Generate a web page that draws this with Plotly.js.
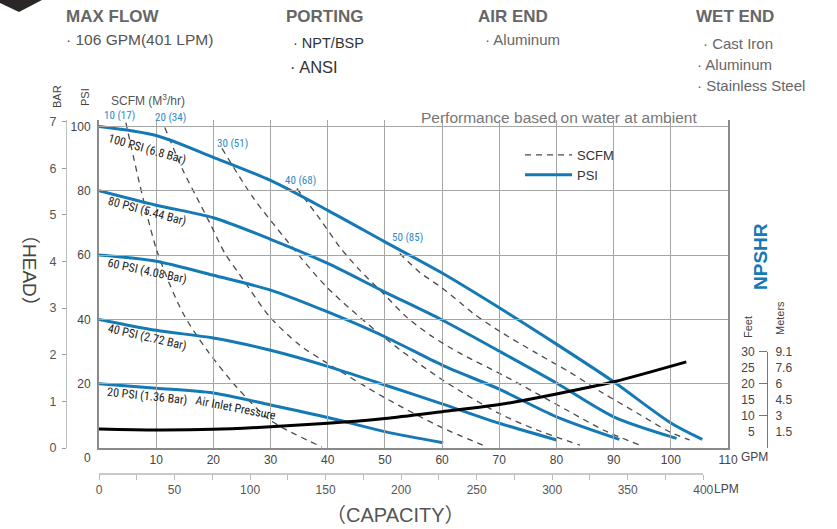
<!DOCTYPE html>
<html><head><meta charset="utf-8">
<script src="https://cdn.plot.ly/plotly-3.0.1.min.js"></script>
<style>html,body{margin:0;padding:0;background:#fff}#chart{width:837px;height:529px}</style>
</head><body><div id="chart"></div>
<script>
// ---------- axes / tick data ----------
const gpmTicks = [0,10,20,30,40,50,60,70,80,90,100,110];
const gpmLabels = ['','10','20','30','40','50','60','70','80','90','100','110'];
const psiTicks = [20,40,60,80,100];
const barTicks = [0,1,2,3,4,5,6,7];
const lpmTicks = [0,25,50,75,100,125,150,175,200,225,250,275,300,325,350,375,400];
const lpmLabels = ['0','','50','','100','','150','','200','','250','','300','','350','','400'];
const feetTicks = [5,10,15,20,25,30];
const feetMajor = [10,20,30];
const meterLabels = ['1.5','3','4.5','6','7.6','9.1'];

// ---------- PSI (air inlet pressure) curves: flow GPM vs head PSI ----------
const flow100 = [0,10,20,30,40,50,60,70,80,90,100,105.5];
const head100 = [100,97.2,90.4,83.2,73.9,64.1,54.4,43.6,32.3,20.6,7.8,2.7];
const flow80 = [0,10,20,30,40,50,60,70,80,90,101];
const head80 = [80,75.5,71.6,64.9,57.4,48.5,39.8,30.1,20.2,9.7,3.0];
const flow60 = [0,10,20,30,40,50,60,70,80,91];
const head60 = [60,58.1,53.7,49.1,42.3,34.6,25.8,18.3,9.7,2.7];
const flow40 = [0,10,20,30,40,50,60,70,80];
const head40 = [40,36.6,34.2,30.4,25.4,19.6,13.7,7.7,2.5];
const flow20 = [0,10,20,30,40,50,60.2];
const head20 = [20,18.6,17.1,13.4,9.5,5.1,1.6];

// ---------- SCFM (air consumption) curves ----------
const scfm10Flow = [4.7,10.1,14.7,18.9,24.1,29.9,39.0];
const scfm10Head = [101.2,61.5,41.9,30.4,18.9,8.7,0.3];
const scfm20Flow = [11.5,14.7,17.1,19.4,22.0,24.7,29.9,35.1,39.9,49.7,59.8,67.1];
const scfm20Head = [99.7,86.3,77.9,69.9,60.6,53.7,40.7,32.0,26.4,15.9,6.5,0.9];
const scfm30Flow = [21.5,26.9,32.8,39.8,49.7,59.7,69.8,76.6,84.1];
const scfm30Head = [93.2,78.0,64.6,50.1,34.6,21.6,10.9,5.6,0.9];
const scfm40Flow = [34.6,38.6,42.1,45.6,49.7,53.8,58.4,63.1,70.6,76.5,82.3,88.2,94.6];
const scfm40Head = [80.7,71.3,62.5,55.3,48.1,40.7,34.5,29.5,22.7,17.0,11.3,5.6,0.9];
const scfm50Flow = [52.6,56.1,59.8,63.1,65.4,70.6,76.5,82.3,88.1,94.1,99.8,103.3];
const scfm50Head = [60.5,54.6,50.0,45.3,41.9,35.7,29.5,23.6,17.1,10.9,5.0,2.5];

// ---------- NPSHR curve (feet) ----------
const npshrFlow = [0,10,20,30,40,50,60,70,80,90,102.7];
const npshrFeet = [5.9,5.6,5.8,6.6,7.7,9.2,11.3,13.5,16.8,20.6,26.8];

// ---------- labels ----------
const scfmLabels = ['10 (17)','20 (34)','30 (51)','40 (68)','50 (85)'];
const psiCurveLabels = ['100 PSI (6.8 Bar)','80 PSI (5.44 Bar)','60 PSI (4.08 Bar)','40 PSI (2.72 Bar)','20 PSI (1.36 Bar)'];

// ---------- helpers (pixel -> paper) ----------
const ML = 30, MR = 30, MT = 120, MB = 40, W = 837, H = 529;
const PW = W - ML - MR, PH = H - MT - MB;
const px = x => (x - ML) / PW;
const py = y => (H - MB - y) / PH;

const BLUE = '#1479b5';
const GRID = '#a6a6a6';
const FONT = 'Liberation Sans, Arial, sans-serif';
const CJK = 'Liberation Sans, Noto Sans CJK SC, sans-serif';
const NARROW = 'Liberation Sans Narrow, Roboto Condensed, Liberation Sans, sans-serif';
const PSI_MAX = 102;
const PSI_PER_BAR = 14.5038;
const GPM_MAX = 110;
const LPM_PER_GPM = 3.78541;

const xd0 = px(99), xd1 = px(728);
const yd0 = py(448);
const lpmEnd = xd0 + (400 / (GPM_MAX * LPM_PER_GPM)) * (xd1 - xd0);
const feetTop = yd0 + (30 / PSI_MAX) * (1 - yd0);

const dashStyle = '6px,5px';
function scfmTrace(x, y, legend) {
  return {x, y, type:'scatter', mode:'lines', name:'SCFM', showlegend:legend,
    line:{color:'#4a4a4a', width:1.3, dash:dashStyle, shape:'spline', smoothing:0.8},
    hoverinfo:'skip'};
}
function psiTrace(x, y, legend) {
  return {x, y, type:'scatter', mode:'lines', name:'PSI', showlegend:legend,
    line:{color:BLUE, width:3, shape:'spline', smoothing:0.8}, hoverinfo:'skip'};
}
// invisible anchors so that secondary axes get drawn
function axisAnchor(xa, ya) {
  return {x:[0], y:[0], xaxis:xa, yaxis:ya, type:'scatter', mode:'lines', showlegend:false,
    hoverinfo:'skip', line:{width:0}};
}

const traces = [
  scfmTrace(scfm10Flow, scfm10Head, true),
  scfmTrace(scfm20Flow, scfm20Head, false),
  scfmTrace(scfm30Flow, scfm30Head, false),
  scfmTrace(scfm40Flow, scfm40Head, false),
  scfmTrace(scfm50Flow, scfm50Head, false),
  psiTrace(flow100, head100, true),
  psiTrace(flow80, head80, false),
  psiTrace(flow60, head60, false),
  psiTrace(flow40, head40, false),
  psiTrace(flow20, head20, false),
  {x:npshrFlow, y:npshrFeet, yaxis:'y3', type:'scatter', mode:'lines', name:'NPSHR', showlegend:false,
   line:{color:'#000', width:3, shape:'spline', smoothing:0.8}, hoverinfo:'skip'},
  axisAnchor('x', 'y2'),
  axisAnchor('x', 'y4'),
  axisAnchor('x', 'y5'),
  axisAnchor('x2', 'y')
];

// ---------- annotations ----------
const ann = [];
function txt(text, x, y, opts) {
  ann.push(Object.assign({text, x:px(x), y:py(y), xref:'paper', yref:'paper', showarrow:false,
    xanchor:'center', yanchor:'middle', font:{family:FONT, size:12, color:'#444'}}, opts||{}));
}
const hdr = {size:17, color:'#666', family:FONT};
const item = {family:FONT, size:15, color:'#666'};
txt('<b>MAX FLOW</b>', 64, 17, {xanchor:'left', font:hdr});
txt('· 106 GPM(401 LPM)', 64, 40, {xanchor:'left', font:{family:FONT, size:15.5, color:'#555'}});
txt('<b>PORTING</b>', 284, 17, {xanchor:'left', font:hdr});
txt('· NPT/BSP', 291, 43, {xanchor:'left', font:{family:FONT, size:14.5, color:'#333'}});
txt('· ANSI', 288, 67, {xanchor:'left', font:{family:FONT, size:16.5, color:'#333'}});
txt('<b>AIR END</b>', 476, 17, {xanchor:'left', font:hdr});
txt('· Aluminum', 483, 40, {xanchor:'left', font:item});
txt('<b>WET END</b>', 694, 17, {xanchor:'left', font:hdr});
txt('· Cast Iron', 701, 43, {xanchor:'left', font:item});
txt('· Aluminum', 695, 64, {xanchor:'left', font:item});
txt('· Stainless Steel', 695, 86, {xanchor:'left', font:item});

txt('Performance based on water at ambient', 559, 117, {font:{family:FONT, size:15.5, color:'#777'}});
txt('SCFM (M<sup>3</sup>/hr)', 109, 100, {xanchor:'left', font:{family:FONT, size:12, color:'#555'}});
txt('BAR', 57, 97, {textangle:-90, font:{family:FONT, size:11, color:'#444'}});
txt('PSI', 85, 97, {textangle:-90, font:{family:FONT, size:11, color:'#444'}});
txt('（HEAD）', 30, 270, {textangle:90, font:{family:CJK, size:19, color:'#444'}});
txt('（CAPACITY）', 395, 515, {font:{family:CJK, size:20, color:'#555'}});
txt('<b>NPSHR</b>', 760, 257, {textangle:-90, font:{family:FONT, size:19, color:BLUE}});
txt('Feet', 748, 327, {textangle:-90, font:{family:FONT, size:11, color:'#444'}});
txt('Meters', 780, 318, {textangle:-90, font:{family:FONT, size:11, color:'#444'}});
txt('0', 87, 458, {font:{family:FONT, size:12, color:'#444'}});
txt('GPM', 739, 457, {xanchor:'left', font:{family:FONT, size:12, color:'#444'}});
txt('LPM', 712, 489, {xanchor:'left', font:{family:FONT, size:12, color:'#444'}});

const scfmLabelPos = [[119,116],[170,117],[232,143],[300,180],[407,237]];
scfmLabels.forEach((t,i) => txt(t, scfmLabelPos[i][0], scfmLabelPos[i][1],
  {font:{family:NARROW, size:11, color:'#2a8ac6'}}));
const psiLabelPos = [[147,149,16],[147,211,15],[147,271,12],[147,337,13],[147,396,6]];
psiCurveLabels.forEach((t,i) => txt(t, psiLabelPos[i][0], psiLabelPos[i][1],
  {textangle:psiLabelPos[i][2], font:{family:NARROW, size:12, color:'#222'}}));
txt('Air Inlet Pressure', 236, 408, {textangle:11, font:{family:NARROW, size:12, color:'#222'}});

const layout = {
  width:W, height:H, margin:{l:ML, r:MR, t:MT, b:MB},
  paper_bgcolor:'#fff', plot_bgcolor:'rgba(0,0,0,0)',
  font:{family:FONT, size:12, color:'#444'},
  showlegend:true,
  legend:{x:px(520), y:py(140), xanchor:'left', yanchor:'top', bgcolor:'rgba(0,0,0,0)',
    font:{family:FONT, size:13, color:'#333'}, tracegroupgap:0, itemwidth:47},
  xaxis:{domain:[xd0, xd1], range:[0, GPM_MAX], tickvals:gpmTicks, ticktext:gpmLabels,
    showgrid:true, gridcolor:GRID, gridwidth:1, zeroline:false, showline:true,
    linecolor:'#8a8a8a', linewidth:2, ticks:'', tickfont:{size:12, color:'#444'}},
  yaxis:{domain:[yd0, 1], range:[0, PSI_MAX], tickvals:psiTicks, showgrid:true, gridcolor:GRID,
    gridwidth:1, zeroline:false, showline:true, mirror:true, linecolor:'#8a8a8a', linewidth:2,
    ticks:'', ticklabelstandoff:4, tickfont:{size:12, color:'#444'}},
  yaxis2:{overlaying:'y', anchor:'free', position:px(66), side:'left',
    range:[0, PSI_MAX / PSI_PER_BAR], tickvals:barTicks, showgrid:false, zeroline:false,
    showline:true, linecolor:'#bdbdbd', linewidth:1, ticks:'outside', ticklen:4, tickcolor:'#999',
    ticklabelstandoff:3, tickfont:{size:12.5, color:'#555'}},
  yaxis3:{domain:[yd0, feetTop], range:[0, 30], anchor:'free', position:px(767), side:'left',
    tickvals:feetTicks, showgrid:false, zeroline:false, showline:true, linecolor:'#777', linewidth:1,
    ticks:'outside', ticklen:8, tickcolor:'rgba(0,0,0,0)', ticklabelstandoff:2,
    tickfont:{size:12, color:'#444'}},
  yaxis4:{overlaying:'y3', anchor:'free', position:px(767), side:'right', range:[0, 30],
    tickvals:feetTicks, ticktext:meterLabels, showgrid:false, zeroline:false, showline:false,
    ticks:'outside', ticklen:5, tickcolor:'rgba(0,0,0,0)', tickfont:{size:12, color:'#444'}},
  yaxis5:{overlaying:'y3', anchor:'free', position:px(767), side:'left', range:[0, 30],
    tickvals:feetMajor, showticklabels:false, showgrid:false, zeroline:false, showline:false,
    ticks:'outside', ticklen:8, tickcolor:'#777'},
  xaxis2:{domain:[xd0, lpmEnd], range:[0, 400], anchor:'free', position:py(474),
    tickvals:lpmTicks, ticktext:lpmLabels, showgrid:false, zeroline:false, showline:true,
    linecolor:'#c8c8c8', linewidth:2, ticks:'outside', ticklen:5, tickcolor:'#bbb',
    tickfont:{size:12, color:'#555'}},
  shapes:[{type:'path', xref:'paper', yref:'paper',
    path:`M ${px(0)},${py(0)} L ${px(0)},${py(3)} L ${px(19)},${py(12)} L ${px(42)},${py(0)} Z`,
    fillcolor:'#2b2727', line:{width:0}}],
  annotations:ann
};

Plotly.newPlot('chart', traces, layout, {displayModeBar:false, staticPlot:true});
</script></body></html>
